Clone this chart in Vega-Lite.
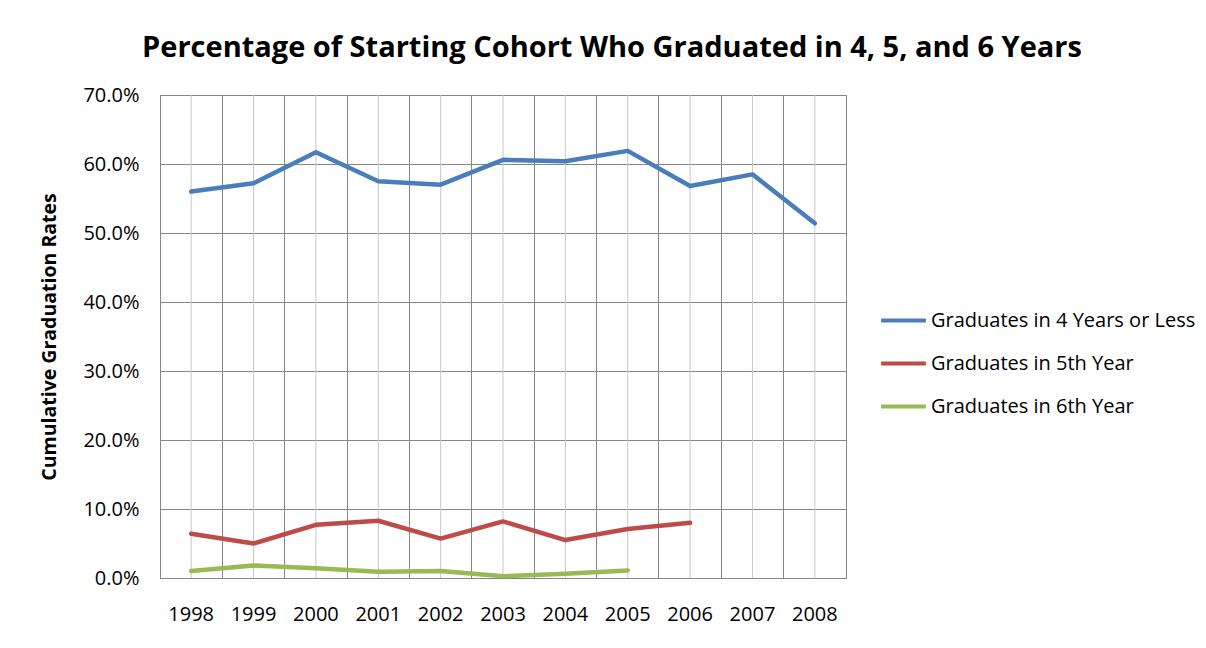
{
  "$schema": "https://vega.github.io/schema/vega-lite/v6.json",
  "width": 686,
  "height": 483,
  "autosize": "none",
  "padding": {"left": 160, "top": 95, "right": 360, "bottom": 70},
  "background": "white",
  "title": {
    "text": "Percentage of Starting Cohort Who Graduated in 4, 5, and 6 Years",
    "font": "Open Sans",
    "fontSize": 29,
    "fontWeight": "bold",
    "color": "#000000",
    "anchor": "middle",
    "dx": 109,
    "offset": 22
  },
  "config": {
    "font": "Open Sans",
    "view": {"stroke": "#868686", "strokeWidth": 1}
  },
  "data": {
    "values": [
      {"year": "1998", "series": "Graduates in 4 Years or Less", "value": 0.560},
      {"year": "1999", "series": "Graduates in 4 Years or Less", "value": 0.572},
      {"year": "2000", "series": "Graduates in 4 Years or Less", "value": 0.617},
      {"year": "2001", "series": "Graduates in 4 Years or Less", "value": 0.575},
      {"year": "2002", "series": "Graduates in 4 Years or Less", "value": 0.570},
      {"year": "2003", "series": "Graduates in 4 Years or Less", "value": 0.606},
      {"year": "2004", "series": "Graduates in 4 Years or Less", "value": 0.604},
      {"year": "2005", "series": "Graduates in 4 Years or Less", "value": 0.619},
      {"year": "2006", "series": "Graduates in 4 Years or Less", "value": 0.568},
      {"year": "2007", "series": "Graduates in 4 Years or Less", "value": 0.585},
      {"year": "2008", "series": "Graduates in 4 Years or Less", "value": 0.514},
      {"year": "1998", "series": "Graduates in 5th  Year", "value": 0.064},
      {"year": "1999", "series": "Graduates in 5th  Year", "value": 0.050},
      {"year": "2000", "series": "Graduates in 5th  Year", "value": 0.077},
      {"year": "2001", "series": "Graduates in 5th  Year", "value": 0.083},
      {"year": "2002", "series": "Graduates in 5th  Year", "value": 0.057},
      {"year": "2003", "series": "Graduates in 5th  Year", "value": 0.082},
      {"year": "2004", "series": "Graduates in 5th  Year", "value": 0.055},
      {"year": "2005", "series": "Graduates in 5th  Year", "value": 0.071},
      {"year": "2006", "series": "Graduates in 5th  Year", "value": 0.080},
      {"year": "1998", "series": "Graduates in 6th Year", "value": 0.010},
      {"year": "1999", "series": "Graduates in 6th Year", "value": 0.018},
      {"year": "2000", "series": "Graduates in 6th Year", "value": 0.014},
      {"year": "2001", "series": "Graduates in 6th Year", "value": 0.009},
      {"year": "2002", "series": "Graduates in 6th Year", "value": 0.010},
      {"year": "2003", "series": "Graduates in 6th Year", "value": 0.0025},
      {"year": "2004", "series": "Graduates in 6th Year", "value": 0.006},
      {"year": "2005", "series": "Graduates in 6th Year", "value": 0.011}
    ]
  },
  "layer": [
    {
      "transform": [{"filter": "datum.series === 'Graduates in 4 Years or Less'"}],
      "mark": {"type": "rule", "color": "#c8c8c8", "strokeWidth": 1},
      "encoding": {
        "x": {
          "field": "year", "type": "ordinal", "bandPosition": 0.5,
          "scale": {"type": "band", "paddingInner": 0, "paddingOuter": 0},
          "axis": {
            "title": null,
            "bandPosition": 0,
            "labelOffset": 0,
            "labelAngle": 0,
            "labelFontSize": 20,
            "labelColor": "#000000",
            "labelPadding": 26,
            "ticks": false,
            "grid": true,
            "gridColor": "#868686",
            "gridWidth": 1,
            "domainColor": "#868686"
          }
        }
      }
    },
    {
      "mark": {"type": "line", "strokeWidth": 4.5, "strokeCap": "round", "strokeJoin": "round"},
      "encoding": {
        "x": {
          "field": "year", "type": "ordinal", "bandPosition": 0.5,
          "scale": {"type": "band", "paddingInner": 0, "paddingOuter": 0}
        },
        "y": {
          "field": "value", "type": "quantitative",
          "scale": {"domain": [0, 0.7], "nice": false},
          "axis": {
            "title": "Cumulative Graduation Rates",
            "titleFontSize": 19.5,
            "titleFontWeight": "bold",
            "titleColor": "#000000",
            "titleX": -101,
            "format": ".1%",
            "values": [0, 0.1, 0.2, 0.3, 0.4, 0.5, 0.6, 0.7],
            "labelFontSize": 20,
            "labelColor": "#000000",
            "labelPadding": 21,
            "ticks": false,
            "grid": true,
            "gridColor": "#868686",
            "gridWidth": 1,
            "domainColor": "#868686"
          }
        },
        "color": {
          "field": "series", "type": "nominal",
          "scale": {
            "domain": ["Graduates in 4 Years or Less", "Graduates in 5th  Year", "Graduates in 6th Year"],
            "range": ["#4a7ebb", "#be4b48", "#98b954"]
          },
          "legend": {
            "title": null,
            "orient": "none",
            "legendX": 719,
            "legendY": 201,
            "symbolType": "stroke",
            "symbolSize": 2000,
            "symbolStrokeWidth": 4,
            "labelFontSize": 20,
            "labelColor": "#000000",
            "labelLimit": 400,
            "labelOffset": 3,
            "rowPadding": 8
          }
        }
      }
    }
  ]
}
